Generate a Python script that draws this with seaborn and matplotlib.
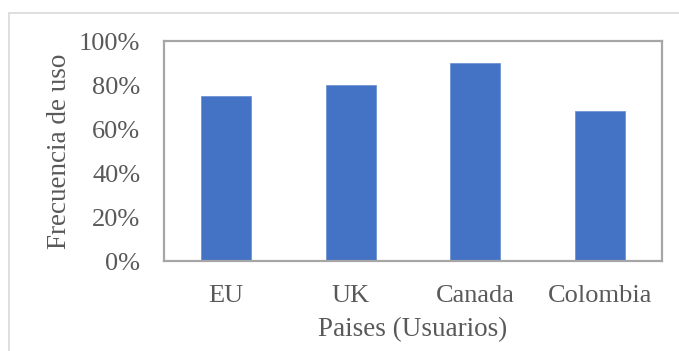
import matplotlib
matplotlib.use("Agg")
import matplotlib.pyplot as plt
from matplotlib.patches import Rectangle
from matplotlib.ticker import FuncFormatter
import seaborn as sns
import pandas as pd

paises = ["EU", "UK", "Canada", "Colombia"]
frecuencia = [0.75, 0.80, 0.90, 0.68]
y_ticks = [0.0, 0.2, 0.4, 0.6, 0.8, 1.0]

sns.set_theme(style="white")
plt.rcParams["font.family"] = ["Liberation Serif", "DejaVu Serif"]

df = pd.DataFrame({"Pais": paises, "Frecuencia": frecuencia})

fig = plt.figure(figsize=(6.79, 3.51), dpi=100)
fig.patch.set_facecolor("white")
ax = fig.add_axes([164 / 679, 1 - 261 / 351, (662 - 164) / 679, (261 - 41) / 351])

sns.barplot(data=df, x="Pais", y="Frecuencia", color="#4472C4", width=0.4,
            saturation=1, ax=ax, edgecolor="#6f93d6", linewidth=0.6)

ax.set_ylim(0, 1.0)
ax.set_xlim(-0.5, len(paises) - 0.5)
ax.set_yticks(y_ticks)
ax.yaxis.set_major_formatter(FuncFormatter(lambda v, _: f"{v * 100:.0f}%"))

text_color = "#595959"
ax.tick_params(axis="both", length=0, labelsize=19, labelcolor=text_color)
ax.tick_params(axis="y", pad=17)
ax.tick_params(axis="x", pad=17.5)

ax.set_xlabel("Paises (Usuarios)", fontsize=19.5, color=text_color, labelpad=7)
ax.set_ylabel("Frecuencia de uso", fontsize=19.5, color=text_color, labelpad=5)

for side in ["left", "right", "top", "bottom"]:
    ax.spines[side].set_visible(True)
    ax.spines[side].set_color("#a6a6a6")
    ax.spines[side].set_linewidth(1.6)

# light chart-area frame around the whole figure
frame = Rectangle((9 / 679, -0.2), 1.2, 1.2 - 13 / 351, transform=fig.transFigure,
                  fill=False, edgecolor="#d9d9d9", linewidth=1.2, clip_on=False)
fig.patches.append(frame)

fig.savefig("out.png", dpi=100)
